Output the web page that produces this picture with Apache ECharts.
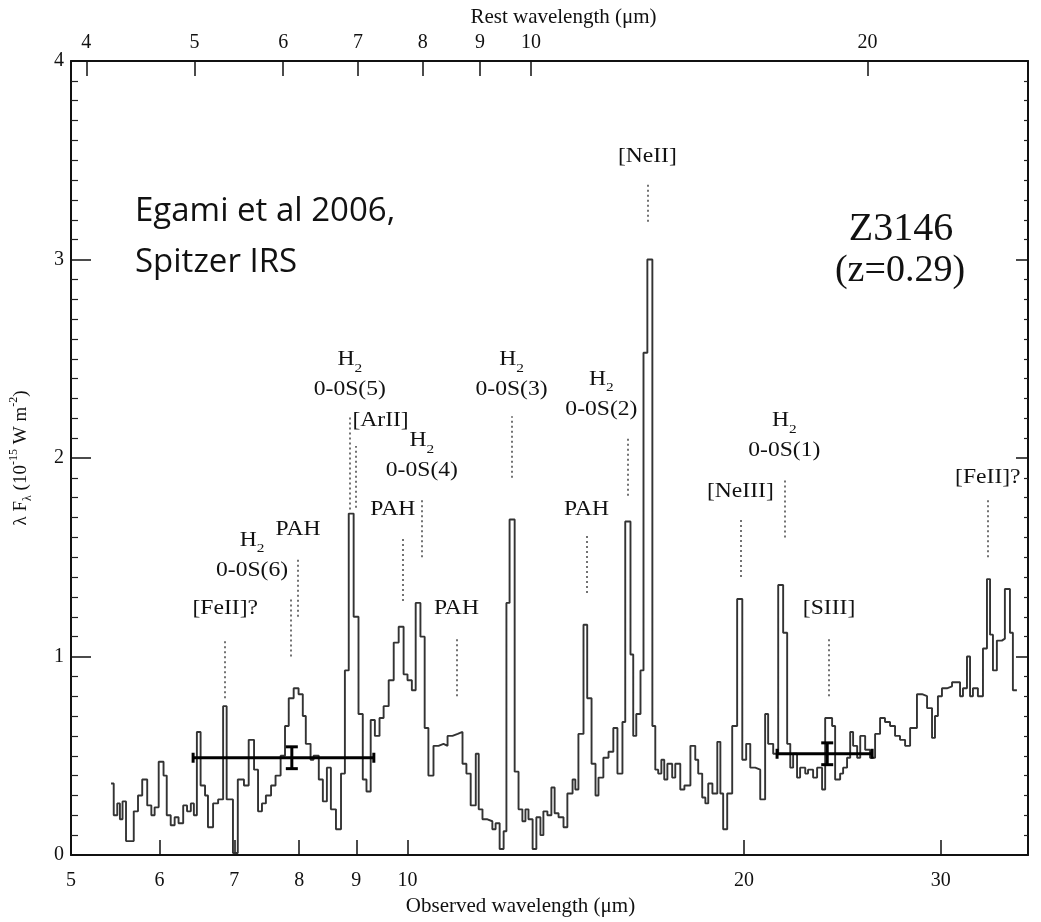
<!DOCTYPE html>
<html>
<head>
<meta charset="utf-8">
<title>Z3146 IRS spectrum</title>
<script src="https://cdn.jsdelivr.net/npm/echarts@6/dist/echarts.min.js"></script>
<style>
  html, body { margin: 0; padding: 0; background: #fff; }
  #chart { width: 1041px; height: 922px; }
</style>
</head>
<body>
<div id="chart"></div>
<script>
// redshift used for the rest-frame axis on top
const redshift = 0.29;

// left edge of every spectral bin, observed wavelength (µm); last entry closes the last bin
const wavelength = [
  5.43, 5.46, 5.50, 5.53, 5.56, 5.60, 5.69, 5.74, 5.79, 5.85, 5.90, 5.94, 5.99, 6.05, 6.09,
  6.14, 6.19, 6.24, 6.30, 6.35, 6.40, 6.44, 6.48, 6.53, 6.59, 6.63, 6.70, 6.77, 6.84, 6.89,
  6.98, 7.05, 7.14, 7.21, 7.29, 7.35, 7.41, 7.47, 7.55, 7.62, 7.70, 7.77, 7.83, 7.91, 7.99,
  8.06, 8.11, 8.19, 8.24, 8.33, 8.40, 8.47, 8.54, 8.63, 8.72, 8.79, 8.86, 8.95, 9.04, 9.12,
  9.19, 9.27, 9.35, 9.44, 9.52, 9.62, 9.72, 9.82, 9.92, 10.00, 10.09, 10.17, 10.27, 10.36, 10.44,
  10.55, 10.66, 10.77, 10.86, 10.97, 11.09, 11.20, 11.29, 11.39, 11.51, 11.58, 11.67, 11.79, 11.91, 11.99,
  12.09, 12.19, 12.26, 12.34, 12.47, 12.57, 12.67, 12.75, 12.83, 12.94, 13.04, 13.15, 13.23, 13.34, 13.45,
  13.54, 13.65, 13.79, 13.90, 14.05, 14.13, 14.22, 14.37, 14.48, 14.61, 14.73, 14.82, 14.97, 15.13, 15.28,
  15.41, 15.57, 15.66, 15.83, 15.92, 16.02, 16.16, 16.26, 16.39, 16.56, 16.66, 16.76, 16.87, 16.97, 17.08,
  17.25, 17.36, 17.54, 17.69, 17.91, 18.09, 18.20, 18.35, 18.47, 18.58, 18.74, 18.93, 19.05, 19.16, 19.32,
  19.52, 19.72, 19.93, 20.09, 20.26, 20.47, 20.68, 20.89, 21.02, 21.24, 21.46, 21.68, 21.86, 22.00, 22.13,
  22.31, 22.45, 22.69, 22.82, 23.06, 23.25, 23.49, 23.64, 23.98, 24.13, 24.38, 24.53, 24.73, 24.89, 25.04,
  25.25, 25.41, 25.67, 25.93, 26.20, 26.47, 26.74, 27.02, 27.30, 27.58, 27.87, 28.16, 28.56, 28.86, 29.16,
  29.46, 29.64, 29.82, 30.07, 30.38, 30.70, 30.89, 31.21, 31.40, 31.66, 31.86, 32.05, 32.38, 32.72, 32.99,
  33.20, 33.40, 33.67, 34.02, 34.23, 34.59, 34.80, 35.09
];

// lambda F_lambda in each bin (10^-15 W m^-2)
const flux = [
  0.36, 0.20, 0.26, 0.18, 0.27, 0.07, 0.22, 0.30, 0.38, 0.25, 0.20, 0.24, 0.47, 0.40, 0.20,
  0.15, 0.19, 0.16, 0.25, 0.22, 0.26, 0.20, 0.62, 0.35, 0.30, 0.14, 0.26, 0.28, 0.75, 0.28,
  0.01, 0.38, 0.35, 0.58, 0.43, 0.22, 0.26, 0.30, 0.35, 0.40, 0.50, 0.65, 0.79, 0.84, 0.81,
  0.70, 0.56, 0.48, 0.50, 0.38, 0.27, 0.44, 0.23, 0.13, 0.41, 0.93, 1.72, 1.20, 0.71, 0.38,
  0.32, 0.68, 0.60, 0.69, 0.75, 0.88, 1.07, 1.15, 0.91, 0.88, 0.83, 1.27, 1.10, 0.64, 0.40,
  0.55, 0.56, 0.55, 0.60, 0.61, 0.62, 0.46, 0.41, 0.25, 0.51, 0.23, 0.18, 0.17, 0.13, 0.16,
  0.03, 0.12, 1.27, 1.69, 0.42, 0.23, 0.17, 0.23, 0.18, 0.03, 0.19, 0.10, 0.22, 0.20, 0.34,
  0.21, 0.19, 0.14, 0.31, 0.38, 0.33, 0.61, 1.16, 0.79, 0.46, 0.30, 0.39, 0.49, 0.52, 0.64,
  0.41, 0.67, 1.68, 1.01, 0.60, 0.71, 0.93, 2.53, 3.00, 0.65, 0.43, 0.41, 0.48, 0.38, 0.46,
  0.39, 0.46, 0.33, 0.35, 0.55, 0.48, 0.41, 0.29, 0.26, 0.36, 0.31, 0.57, 0.31, 0.13, 0.31,
  0.65, 1.29, 0.48, 0.56, 0.44, 0.43, 0.28, 0.71, 0.56, 0.51, 1.36, 1.12, 0.56, 0.44, 0.51,
  0.39, 0.44, 0.41, 0.43, 0.39, 0.44, 0.33, 0.69, 0.65, 0.38, 0.41, 0.44, 0.49, 0.62, 0.55,
  0.49, 0.60, 0.53, 0.49, 0.61, 0.69, 0.67, 0.65, 0.60, 0.58, 0.55, 0.64, 0.81, 0.80, 0.74,
  0.59, 0.70, 0.80, 0.84, 0.85, 0.87, 0.87, 0.80, 0.84, 1.00, 0.80, 0.84, 0.80, 1.04, 1.39,
  1.11, 0.93, 1.08, 1.09, 1.34, 1.12, 0.83, 0.83
];

// broadband photometry with wavelength range and error
const photWave = [7.88, 23.74];
const photLow = [6.43, 21.41];
const photHigh = [9.33, 26.04];
const photFlux = [0.49, 0.51];
const photErr = [0.055, 0.055];

// line identifications: dotted marker and text
const lineNames = [
  '[FeII]?', 'H{s|2}\n0-0S(6)', 'PAH', 'H{s|2}\n0-0S(5)', '[ArII]', 'H{s|2}\n0-0S(4)', 'PAH', 'PAH',
  'H{s|2}\n0-0S(3)', 'PAH', 'H{s|2}\n0-0S(2)', '[NeII]', '[NeIII]', 'H{s|2}\n0-0S(1)', '[SIII]', '[FeII]?'
];
const lineWave = [6.86, 7.86, 7.98, 8.88, 8.99, 10.30, 9.90, 11.06, 12.39, 14.46, 15.73, 16.39, 19.85, 21.73, 23.83, 33.05];
const markLow = [0.79, 1.00, 1.20, 1.74, 1.75, 1.50, 1.28, 0.80, 1.90, 1.32, 1.81, 3.19, 1.40, 1.60, 0.80, 1.50];
const markHigh = [1.09, 1.30, 1.50, 2.21, 2.06, 1.80, 1.60, 1.10, 2.21, 1.62, 2.11, 3.38, 1.70, 1.90, 1.10, 1.80];
const textWave = [6.87, 7.26, 7.98, 8.88, 9.46, 10.30, 9.70, 11.06, 12.39, 14.46, 14.91, 16.39, 19.85, 21.73, 23.83, 33.05];
const textFlux = [1.24, 1.51, 1.64, 2.42, 2.19, 2.01, 1.74, 1.24, 2.42, 1.74, 2.32, 3.52, 1.83, 2.11, 1.24, 1.90];

// tick labels
const obsTicks = [5, 6, 7, 8, 9, 10, 20, 30];
const restTicks = [4, 5, 6, 7, 8, 9, 10, 20];

const obsMin = 5;
const obsMax = 35.9;

const serif = '"Liberation Serif", "DejaVu Serif", serif';
const ink = '#111';

const chart = echarts.init(document.getElementById('chart'));

// step line: value of each bin holds until the next edge
const spectrum = wavelength.map((w, i) => [w, flux[Math.min(i, flux.length - 1)]]);

const labelData = textWave.map((w, i) => [w, textFlux[i]]);
const markData = lineWave.map((w, i) => [{ coord: [w, markLow[i]] }, { coord: [w, markHigh[i]] }]);
const photData = photWave.map((w, i) => [w, photLow[i], photHigh[i], photFlux[i], photErr[i]]);

const xCommon = {
  type: 'log',
  axisLine: { show: true, onZero: false, lineStyle: { color: ink, width: 2 } },
  splitLine: { show: false },
  minorTick: { show: false },
  nameLocation: 'middle'
};

const yCommon = {
  type: 'value',
  min: 0,
  max: 4,
  interval: 1,
  axisLine: { show: true, onZero: false, lineStyle: { color: ink, width: 2 } },
  splitLine: { show: false },
  minorSplitLine: { show: false }
};

const option = {
  animation: false,
  backgroundColor: '#fff',
  grid: { left: 70, right: 13, top: 61, bottom: 67 },
  xAxis: [
    Object.assign({}, xCommon, {
      position: 'bottom',
      min: obsMin,
      max: obsMax,
      name: 'Observed wavelength (μm)',
      nameGap: 41,
      nameTextStyle: { fontFamily: serif, fontSize: 21, color: ink, padding: [0, 58, 0, 0] },
      axisTick: { inside: true, length: 15, customValues: obsTicks, lineStyle: { color: ink, width: 1.5 } },
      axisLabel: { customValues: obsTicks, fontFamily: serif, fontSize: 20, color: ink, margin: 16 }
    }),
    Object.assign({}, xCommon, {
      position: 'top',
      min: obsMin / (1 + redshift),
      max: obsMax / (1 + redshift),
      name: 'Rest wavelength (μm)',
      nameGap: 30,
      nameTextStyle: { fontFamily: serif, fontSize: 21, color: ink, padding: [0, 0, 0, 28] },
      axisTick: { inside: true, length: 15, customValues: restTicks, lineStyle: { color: ink, width: 1.5 } },
      axisLabel: { customValues: restTicks, fontFamily: serif, fontSize: 20, color: ink, margin: 8 }
    })
  ],
  yAxis: [
    Object.assign({}, yCommon, {
      position: 'left',
      name: 'λ F{sub|λ} (10{sup|-15} W m{sup|-2})',
      nameLocation: 'middle',
      nameGap: 37,
      nameRotate: 90,
      nameTextStyle: {
        fontFamily: serif, fontSize: 19, color: ink, lineHeight: 26,
        rich: {
          sub: { fontFamily: serif, fontSize: 12, color: ink, verticalAlign: 'bottom', lineHeight: 14 },
          sup: { fontFamily: serif, fontSize: 12, color: ink, verticalAlign: 'top', lineHeight: 14 }
        }
      },
      axisTick: { inside: true, length: 20, lineStyle: { color: ink, width: 1.5 } },
      minorTick: { show: true, splitNumber: 10, length: 7, lineStyle: { color: '#222', width: 1.2 } },
      axisLabel: { fontFamily: serif, fontSize: 20, color: ink, margin: 7 }
    }),
    Object.assign({}, yCommon, {
      position: 'right',
      axisTick: { inside: true, length: 12, lineStyle: { color: ink, width: 1.5 } },
      minorTick: { show: true, splitNumber: 10, length: 4, lineStyle: { color: '#222', width: 1.2 } },
      axisLabel: { show: false }
    })
  ],
  series: [
    {
      name: 'IRS spectrum',
      type: 'line',
      step: 'end',
      xAxisIndex: 0,
      yAxisIndex: 0,
      data: spectrum,
      showSymbol: false,
      symbol: 'none',
      silent: true,
      lineStyle: { color: '#333', width: 1.9 },
      markLine: {
        silent: true,
        symbol: ['none', 'none'],
        label: { show: false },
        emphasis: { disabled: true },
        lineStyle: { type: [2, 3], color: '#444', width: 1.5 },
        data: markData
      }
    },
    {
      name: 'photometry',
      type: 'custom',
      xAxisIndex: 0,
      yAxisIndex: 0,
      data: photData,
      encode: { x: 0, y: 3 },
      silent: true,
      z: 5,
      renderItem: (params, api) => {
        const y = api.value(3);
        const e = api.value(4);
        const lo = api.coord([api.value(1), y]);
        const hi = api.coord([api.value(2), y]);
        const top = api.coord([api.value(0), y + e]);
        const bot = api.coord([api.value(0), y - e]);
        const style = { stroke: '#000', lineWidth: 3 };
        const seg = (x1, y1, x2, y2) => ({ type: 'line', shape: { x1, y1, x2, y2 }, style });
        return {
          type: 'group',
          children: [
            seg(lo[0], lo[1], hi[0], hi[1]),
            seg(lo[0], lo[1] - 5, lo[0], lo[1] + 5),
            seg(hi[0], hi[1] - 5, hi[0], hi[1] + 5),
            seg(top[0], top[1], bot[0], bot[1]),
            seg(top[0] - 6, top[1], top[0] + 6, top[1]),
            seg(bot[0] - 6, bot[1], bot[0] + 6, bot[1])
          ]
        };
      }
    },
    {
      // line identifications, slightly widened like the original figure's lettering
      name: 'line ids',
      type: 'custom',
      xAxisIndex: 0,
      yAxisIndex: 0,
      data: labelData,
      silent: true,
      renderItem: (params, api) => {
        const p = api.coord([api.value(0), api.value(1)]);
        return {
          type: 'text',
          x: p[0],
          y: p[1],
          scaleX: 1.18,
          style: {
            text: lineNames[params.dataIndex],
            fontFamily: 'Liberation Serif',
            fontSize: 20,
            fill: '#111',
            align: 'center',
            verticalAlign: 'middle',
            lineHeight: 30,
            rich: {
              s: { fontFamily: 'Liberation Serif', fontSize: 13, fill: '#111', verticalAlign: 'bottom', lineHeight: 12 }
            }
          }
        };
      }
    }
  ],
  graphic: [
    { type: 'text', x: 135, y: 212, style: { text: 'Egami et al 2006,', font: '33px "Open Sans"', fill: '#111', align: 'left', verticalAlign: 'middle' } },
    { type: 'text', x: 135, y: 263, style: { text: 'Spitzer IRS', font: '33px "Open Sans"', fill: '#111', align: 'left', verticalAlign: 'middle' } },
    { type: 'text', x: 901, y: 229, style: { text: 'Z3146', font: '40px "Liberation Serif"', fill: '#111', align: 'center', verticalAlign: 'middle' } },
    { type: 'text', x: 900, y: 271, style: { text: '(z=0.29)', font: '38px "Liberation Serif"', fill: '#111', align: 'center', verticalAlign: 'middle' } }
  ]
};

chart.setOption(option);
window.addEventListener('resize', () => chart.resize());
</script>
</body>
</html>
